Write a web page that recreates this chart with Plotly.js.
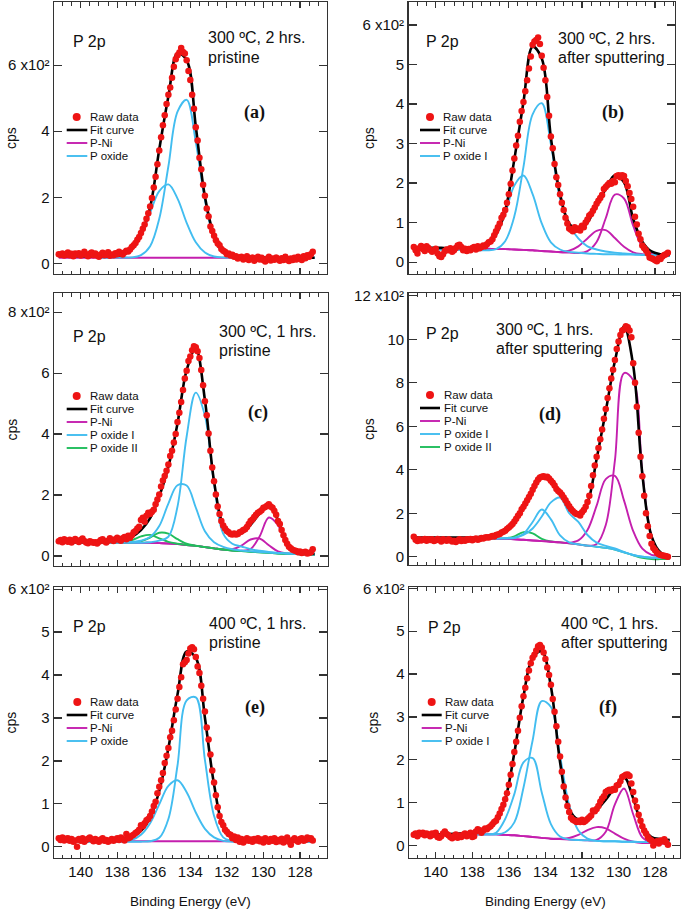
<!DOCTYPE html>
<html><head><meta charset="utf-8">
<script src="https://cdn.plot.ly/plotly-3.0.1.min.js"></script>
<style>html,body{margin:0;padding:0;background:#fff}#chart{width:685px;height:913px}</style>
</head><body><div id="chart"></div>
<script>
// ---------- energy grids (Binding Energy, eV) ----------
const CURVE_X0 = 141.2, CURVE_DX = -0.5;   // 29 points, 141.2 -> 127.2
const RAW_X0 = 141.2, RAW_DX = -0.1;       // 140 points, 141.2 -> 127.3

// ---------- values in units of 10^2 cps ----------
// (a) 300 C, 2 hrs, pristine
const a_fit = [.22,.22,.22,.21,.21,.21,.22,.26,.45,.88,1.7,3.45,5.05,6.36,6.15,4.14,2.02,.86,.4,.26,.21,.19,.18,.18,.17,.17,.17,.17,.17];
const a_pni = [.17,.17,.17,.17,.17,.17,.17,.17,.17,.17,.17,.17,.17,.17,.17,.17,.17,.17,.17,.17,.17,.17,.17,.17,.17,.17,.17,.17,.17];
const a_ox1 = [.19,.19,.19,.19,.19,.18,.18,.18,.18,.25,.52,1.35,2.94,4.59,4.95,3.67,1.91,.76,.31,.2,.18,.18,.17,.17,.17,.17,.17,.17,.17];
const a_ox2 = [.19,.19,.19,.19,.19,.18,.19,.24,.42,.84,1.53,2.19,2.39,1.96,1.23,.64,.33,.21,.18,.18,.18,.18,.17,.17,.17,.17,.17,.17,.17];
const a_raw = [.28,.26,.3,.24,.27,.33,.25,.29,.22,.3,
.27,.31,.24,.28,.35,.26,.22,.29,.33,.25,
.3,.24,.2,.27,.32,.25,.28,.34,.23,.27,
.25,.31,.28,.35,.3,.27,.33,.38,.36,.42,
.5,.55,.62,.72,.8,.92,1.05,1.18,1.35,1.52,
1.72,1.98,2.3,2.62,3.0,3.42,3.82,4.18,4.48,4.82,
5.1,5.32,5.62,5.95,6.18,6.3,6.38,6.52,6.4,6.35,
6.15,5.82,5.55,5.1,4.68,4.12,3.72,3.2,2.85,2.38,
2.05,1.66,1.42,1.12,.98,.84,.7,.6,.55,.44,
.38,.35,.28,.3,.24,.26,.2,.22,.15,.18,
.2,.12,.16,.22,.1,.15,.18,.08,.14,.2,
.12,.17,.1,.06,.14,.2,.09,.15,.11,.18,
.13,.08,.16,.1,.2,.12,.07,.15,.1,.17,
.12,.2,.15,.1,.22,.16,.25,.2,.28,.35];

// (b) 300 C, 2 hrs, after sputtering
const b_fit = [.36,.36,.36,.36,.36,.37,.37,.39,.45,.7,1.3,2.6,4.05,5.45,5.15,3.15,1.72,.98,.82,1.0,1.45,1.85,2.2,2.02,1.1,.52,.27,.2,.18];
const b_ni1 = [.34,.34,.34,.34,.34,.34,.34,.34,.34,.33,.33,.32,.31,.3,.28,.27,.26,.29,.4,.6,.79,.81,.61,.39,.25,.2,.18,.18,.17];
const b_ni2 = [.34,.34,.34,.34,.34,.34,.34,.34,.34,.33,.33,.32,.31,.3,.28,.27,.25,.24,.23,.28,.51,1.11,1.71,1.61,.92,.4,.21,.18,.17];
const b_ox1 = [.34,.33,.33,.32,.31,.31,.3,.3,.3,.33,.53,1.16,2.41,3.74,4.02,2.98,1.6,.95,.6,.4,.32,.27,.24,.22,.2,.19,.18,.17,.16];
const b_ox2 = [.34,.33,.33,.32,.31,.31,.3,.32,.42,.7,1.23,1.94,2.19,1.72,.98,.5,.32,.26,.24,.22,.21,.2,.2,.19,.19,.18,.17,.17,.16];
const b_raw = [.38,.3,.22,.35,.41,.33,.28,.4,.36,.31,
.26,.3,.34,.22,.15,.13,.2,.28,.32,.3,
.35,.26,.3,.36,.42,.44,.38,.3,.34,.28,
.33,.3,.36,.38,.32,.4,.35,.38,.42,.4,
.45,.5,.52,.58,.68,.78,.88,.98,1.12,1.2,
1.32,1.5,1.72,1.98,2.32,2.62,2.95,3.2,3.55,3.82,
4.05,4.32,4.6,4.9,5.2,5.5,5.58,5.62,5.68,5.52,
5.22,4.92,4.6,4.18,3.7,3.18,2.88,2.48,2.15,1.95,
1.72,1.5,1.32,1.12,.98,.85,.82,.78,.88,.82,
.85,.8,.92,.88,1.0,1.08,1.18,1.22,1.3,1.38,
1.48,1.55,1.62,1.7,1.85,1.9,1.95,2.0,1.98,2.05,
2.02,2.18,2.2,2.15,2.2,2.18,2.05,1.92,1.75,1.6,
1.4,1.15,.95,.72,.58,.42,.36,.3,.22,.12,
.1,.08,.05,.02,.1,.08,.14,.18,.2,.24];

// (c) 300 C, 1 hrs, pristine
const c_fit = [.45,.45,.45,.45,.45,.46,.48,.53,.63,.85,1.24,1.95,2.93,4.35,6.1,6.8,5.12,2.45,1.02,.7,.74,1.02,1.4,1.66,1.18,.42,.14,.09,.07];
const c_ni1 = [.44,.44,.44,.44,.44,.44,.44,.44,.43,.43,.43,.42,.41,.39,.36,.33,.29,.25,.21,.22,.34,.54,.57,.35,.15,.08,.06,.05,.04];
const c_ni2 = [.44,.44,.44,.44,.44,.44,.44,.44,.43,.43,.43,.42,.41,.39,.36,.33,.29,.25,.21,.18,.17,.23,.65,1.26,1.01,.35,.09,.05,.04];
const c_ox1a = [.44,.44,.44,.44,.44,.44,.44,.44,.43,.43,.45,.5,.63,1.62,3.92,5.36,4.6,2.38,.73,.4,.31,.22,.17,.13,.1,.08,.07,.06,.05];
const c_ox1b = [.44,.44,.44,.44,.44,.44,.44,.45,.46,.5,.62,.98,1.72,2.32,2.31,1.59,.81,.45,.3,.22,.18,.15,.13,.11,.09,.08,.07,.06,.05];
const c_ox2a = [.44,.44,.44,.44,.44,.44,.44,.44,.44,.48,.6,.76,.73,.55,.4,.34,.29,.25,.21,.18,.16,.14,.12,.1,.08,.07,.06,.05,.04];
const c_ox2b = [.44,.44,.44,.44,.44,.44,.44,.46,.52,.64,.69,.58,.46,.4,.36,.33,.29,.25,.21,.18,.16,.14,.12,.1,.08,.07,.06,.05,.04];
const c_raw = [.48,.52,.45,.55,.5,.47,.53,.44,.5,.56,
.5,.46,.52,.57,.49,.44,.42,.48,.46,.43,
.45,.41,.47,.52,.55,.48,.44,.5,.58,.52,
.49,.55,.6,.53,.5,.58,.62,.55,.66,.6,
.68,.78,.82,.9,.96,1.18,1.25,1.12,1.32,1.42,
1.38,1.45,1.52,1.7,1.85,2.02,2.28,2.48,2.62,2.8,
3.0,3.28,3.45,3.72,4.0,4.4,4.7,5.05,5.45,5.82,
6.08,6.4,6.55,6.75,6.88,6.85,6.72,6.5,6.1,5.6,
5.08,4.62,4.02,3.45,2.9,2.45,2.02,1.62,1.38,1.15,
1.0,.9,.82,.78,.72,.7,.74,.7,.72,.78,
.8,.85,.88,.95,1.05,1.15,1.2,1.28,1.35,1.42,
1.45,1.5,1.58,1.6,1.65,1.7,1.62,1.58,1.48,1.35,
1.15,1.05,.85,.68,.52,.4,.3,.25,.2,.18,
.16,.12,.15,.1,.12,.14,.08,.1,.12,.22];

// (d) 300 C, 1 hrs, after sputtering
const d_fit = [.88,.88,.88,.88,.88,.88,.88,.9,.93,1.0,1.15,1.7,2.3,3.07,3.65,3.5,2.95,2.3,1.95,2.5,4.5,6.7,9.0,10.6,8.8,3.8,.95,.2,.06];
const d_ni1 = [.84,.84,.84,.84,.84,.84,.84,.84,.83,.83,.82,.8,.78,.75,.72,.69,.66,.64,.75,1.23,2.35,3.57,3.72,2.58,1.18,.37,.09,.04,.03];
const d_ni2 = [.84,.84,.84,.84,.84,.84,.84,.84,.83,.83,.82,.8,.78,.75,.72,.69,.66,.62,.57,.51,.59,1.46,4.43,8.45,8.12,3.87,.95,.14,.03];
const d_ox1a = [.84,.84,.84,.84,.84,.84,.84,.84,.83,.84,.84,.86,1.0,1.3,1.85,2.5,2.72,2.0,1.6,1.0,.65,.5,.38,.22,.08,0,-.04,-.05,-.05];
const d_ox1b = [.84,.84,.84,.84,.84,.84,.84,.84,.83,.84,.86,.88,1.05,1.6,2.17,1.72,.98,.66,.57,.51,.46,.41,.33,.2,.08,0,-.04,-.05,-.05];
const d_ox2 = [.84,.84,.84,.84,.84,.84,.84,.84,.83,.83,.84,.94,1.13,1.07,.82,.7,.66,.62,.57,.51,.46,.41,.33,.2,.07,-.05,-.11,-.11,-.11];
const d_raw = [.92,.78,.72,.8,.75,.78,.82,.74,.8,.77,
.8,.72,.76,.82,.78,.7,.8,.77,.74,.81,
.76,.7,.73,.68,.75,.8,.72,.78,.74,.8,
.78,.82,.76,.8,.84,.78,.82,.86,.84,.88,
.9,.88,.92,.95,.93,1.0,1.02,1.05,1.12,1.15,
1.2,1.28,1.35,1.42,1.5,1.62,1.75,1.88,2.0,2.18,
2.3,2.45,2.6,2.75,2.9,3.08,3.25,3.42,3.55,3.65,
3.68,3.7,3.66,3.68,3.6,3.5,3.4,3.28,3.12,3.02,
2.95,2.85,2.72,2.6,2.45,2.32,2.2,2.1,2.02,1.96,
1.95,1.9,2.05,2.15,2.3,2.52,2.8,3.25,3.75,4.2,
4.6,5.0,5.4,5.85,6.35,6.8,7.3,7.75,8.2,8.6,
9.05,9.55,9.9,10.2,10.4,10.45,10.6,10.55,10.4,10.1,
8.9,8.0,6.9,5.7,4.6,3.7,2.8,2.0,1.4,.95,
.6,.4,.3,.18,.12,.08,.06,.04,.02,.0];

// (e) 400 C, 1 hrs, pristine
const e_fit = [.17,.17,.17,.17,.16,.16,.17,.18,.23,.37,.68,1.3,2.3,3.55,4.55,4.4,3.0,1.45,.48,.25,.19,.17,.16,.16,.16,.15,.15,.15,.15];
const e_pni = [.13,.13,.13,.13,.13,.13,.13,.13,.13,.13,.13,.13,.13,.13,.13,.13,.13,.13,.13,.13,.13,.13,.13,.13,.13,.13,.13,.13,.13];
const e_ox1 = [.12,.12,.12,.12,.12,.12,.12,.12,.12,.12,.13,.21,.65,1.9,3.41,3.48,2.02,.72,.22,.14,.12,.12,.12,.12,.12,.12,.12,.12,.12];
const e_ox2 = [.12,.12,.12,.12,.12,.12,.12,.13,.16,.28,.55,.99,1.42,1.55,1.27,.8,.42,.22,.14,.12,.12,.12,.12,.12,.12,.12,.12,.12,.12];
const e_raw = [.2,.16,.22,.15,.19,.2,.14,.18,.12,.15,
.0,.18,.14,.2,.12,.16,.19,.22,.17,.13,
.18,.15,.12,.17,.2,.14,.16,.12,.15,.18,
.14,.17,.2,.16,.22,.18,.15,.3,.2,.22,
.26,.28,.32,.35,.4,.5,.48,.55,.62,.65,
.72,.82,.95,1.05,1.25,1.4,1.55,1.72,1.95,2.12,
2.3,2.55,2.7,2.95,3.2,3.45,3.72,3.95,4.25,4.3,
4.35,4.5,4.62,4.65,4.6,4.42,4.2,4.05,3.75,3.45,
3.15,2.78,2.5,2.15,1.78,1.5,1.2,.92,.72,.58,
.5,.4,.35,.3,.28,.2,.24,.16,.22,.12,
.18,.1,.15,.2,.14,.17,.12,.18,.15,.2,
.13,.17,.1,.2,.15,.12,.18,.14,.2,.11,
.16,.13,.19,.1,.15,.22,.12,.05,.16,.2,
.15,.12,.18,.2,.14,.16,.22,.18,.2,.15];

// (f) 400 C, 1 hrs, after sputtering
const f_fit = [.26,.26,.26,.26,.27,.28,.3,.33,.38,.56,1.07,2.16,3.48,4.38,4.53,3.71,1.95,.85,.6,.63,.83,1.07,1.36,1.6,1.1,.46,.2,.15,.13];
const f_ni1 = [.26,.26,.26,.26,.26,.26,.26,.26,.26,.26,.25,.24,.22,.2,.18,.16,.16,.18,.25,.36,.43,.4,.28,.16,.09,.06,.06,.05,.05];
const f_ni2 = [.26,.26,.26,.26,.26,.26,.26,.26,.26,.26,.25,.24,.22,.2,.18,.16,.15,.14,.13,.12,.13,.32,.96,1.33,.73,.19,.07,.05,.05];
const f_ox1 = [.26,.26,.26,.26,.26,.26,.26,.26,.26,.26,.31,.54,1.35,2.45,3.37,3.23,2.09,.94,.35,.16,.11,.1,.1,.09,.09,.08,.08,.07,.07];
const f_ox2 = [.26,.26,.26,.26,.26,.26,.26,.26,.26,.3,.62,1.2,1.94,2.04,1.24,.5,.21,.14,.13,.12,.11,.1,.1,.09,.09,.08,.08,.07,.07];
const f_raw = [.25,.28,.22,.3,.27,.3,.24,.28,.26,.22,
.28,.25,.3,.2,.18,.22,.28,.33,.27,.24,
.2,.17,.22,.26,.18,.23,.2,.25,.28,.22,
.25,.3,.2,.22,.33,.38,.36,.3,.35,.4,
.38,.42,.45,.5,.55,.58,.66,.75,.85,.95,
1.08,1.22,1.42,1.65,1.9,2.18,2.42,2.68,2.98,3.25,
3.48,3.68,3.9,4.08,4.25,4.38,4.45,4.55,4.65,4.68,
4.62,4.5,4.35,4.15,3.98,3.75,3.42,3.12,2.78,2.42,
2.08,1.72,1.38,1.12,.92,.78,.65,.6,.58,.55,
.58,.55,.6,.55,.58,.62,.66,.7,.82,.8,
.85,.92,1.02,1.1,1.15,1.25,1.28,1.3,1.28,1.32,
1.3,1.4,1.42,1.5,1.6,1.62,1.65,1.66,1.62,1.45,
1.25,1.05,.9,.72,.58,.45,.35,.28,.2,.15,
.12,.0,.08,.1,.05,.12,.1,.15,.08,.02];

// ---------- styles ----------
const NI = '#c41fae', OX = '#42bdf0', OX2 = '#20bd5c', RED = '#ee1414', BLACK = '#000000';
const FONT = 'Liberation Sans, Arial, sans-serif';
const W = 685, H = 913;
const X100 = ' x10\u00B2';

const panels = [
 {px:[54,327], py:[2,274], xr:[141.46,126.52], yr:[-0.32,7.91], tv:[0,2,4,6], tt:['0','2','4','6'+X100], xl:false,
  comps:[[a_pni,NI,'P-Ni'],[a_ox2,OX,'P oxide'],[a_ox1,OX,'P oxide']], fit:a_fit, raw:a_raw,
  leg:{mx:76.7,my:117,lx:[66.7,87.3],tx:89.3,rows:[['Fit curve',BLACK,130],['P-Ni',NI,143],['P oxide',OX,156]]},
  pn:[72,42], cond:[207,38,57.5,'300 ºC, 2 hrs.','pristine'], lab:[254,112,'(a)'], cps:[11,138]},
 {px:[408.5,675], py:[2,274], xr:[141.49,126.91], yr:[-0.30,6.58], tv:[0,1,2,3,4,5,6], tt:['0','1','2','3','4','5','6'+X100], xl:false,
  comps:[[b_ni1,NI,'P-Ni'],[b_ni2,NI,'P-Ni'],[b_ox2,OX,'P oxide I'],[b_ox1,OX,'P oxide I']], fit:b_fit, raw:b_raw,
  leg:{mx:430,my:117,lx:[420,440],tx:441.7,rows:[['Fit curve',BLACK,130],['P-Ni',NI,143],['P oxide I',OX,156]]},
  pn:[425,42], cond:[556.7,38.5,58,'300 ºC, 2 hrs.','after sputtering'], lab:[612.5,112,'(b)'], cps:[369,138]},
 {px:[54,327.5], py:[293,566], xr:[141.46,126.49], yr:[-0.33,8.63], tv:[0,2,4,6,8], tt:['0','2','4','6','8'+X100], xl:false,
  comps:[[c_ni1,NI,'P-Ni'],[c_ni2,NI,'P-Ni'],[c_ox2b,OX2,'P oxide II'],[c_ox2a,OX2,'P oxide II'],[c_ox1b,OX,'P oxide I'],[c_ox1a,OX,'P oxide I']], fit:c_fit, raw:c_raw,
  leg:{mx:76.7,my:396,lx:[66.7,87.3],tx:89.3,rows:[['Fit curve',BLACK,409],['P-Ni',NI,422],['P oxide I',OX,435],['P oxide II',OX2,448]]},
  pn:[72,336], cond:[218,331,350,'300 ºC, 1 hrs.','pristine'], lab:[258,412.7,'(c)'], cps:[11,429.5]},
 {px:[408.5,680], py:[293,565], xr:[141.49,126.64], yr:[-0.38,12.13], tv:[0,2,4,6,8,10,12], tt:['0','2','4','6','8','10','12'+X100], xl:false,
  comps:[[d_ox2,OX2,'P oxide II'],[d_ni1,NI,'P-Ni'],[d_ni2,NI,'P-Ni'],[d_ox1b,OX,'P oxide I'],[d_ox1a,OX,'P oxide I']], fit:d_fit, raw:d_raw,
  leg:{mx:430,my:395,lx:[420,440],tx:442.7,rows:[['Fit curve',BLACK,408],['P-Ni',NI,421],['P oxide I',OX,434],['P oxide II',OX2,447]]},
  pn:[425,334], cond:[495,329.5,348.5,'300 ºC, 1 hrs.','after sputtering'], lab:[550,414,'(d)'], cps:[369,429]},
 {px:[54,327], py:[587,858], xr:[141.46,126.52], yr:[-0.26,6.05], tv:[0,1,2,3,4,5,6], tt:['0','1','2','3','4','5','6'+X100], xl:true,
  comps:[[e_pni,NI,'P-Ni'],[e_ox2,OX,'P oxide'],[e_ox1,OX,'P oxide']], fit:e_fit, raw:e_raw,
  leg:{mx:77.3,my:702,lx:[66.7,87.3],tx:89.3,rows:[['Fit curve',BLACK,715],['P-Ni',NI,728],['P oxide',OX,741]]},
  pn:[72,626], cond:[208,623,642,'400 ºC, 1 hrs.','pristine'], lab:[255,707,'(e)'], cps:[10,722.5], be:[190.5,901.7]},
 {px:[409,680], py:[587,858], xr:[141.46,126.64], yr:[-0.29,6.03], tv:[0,1,2,3,4,5,6], tt:['0','1','2','3','4','5','6'+X100], xl:true,
  comps:[[f_ni1,NI,'P-Ni'],[f_ni2,NI,'P-Ni'],[f_ox2,OX,'P oxide I'],[f_ox1,OX,'P oxide I']], fit:f_fit, raw:f_raw,
  leg:{mx:431.7,my:702,lx:[421.7,441.7],tx:444,rows:[['Fit curve',BLACK,715],['P-Ni',NI,728],['P oxide I',OX,741]]},
  pn:[427,627.5], cond:[560,623,642,'400 ºC, 1 hrs.','after sputtering'], lab:[608,707,'(f)'], cps:[372,722.5], be:[545.5,901.7]}
];

const fx = p => p / W, fy = p => 1 - p / H;
const traces = [], shapes = [], annotations = [];
const layout = {width:W, height:H, margin:{l:0,r:0,t:0,b:0}, paper_bgcolor:'#fff', plot_bgcolor:'#fff',
  showlegend:false, font:{family:FONT, color:'#111'}, hovermode:false};

function note(x, y, text, size, extra) {
  annotations.push(Object.assign({xref:'paper', yref:'paper', x:fx(x), y:fy(y), xanchor:'left', yanchor:'middle',
    text:text, showarrow:false, borderpad:0, font:{size:size, family:FONT, color:'#111'}}, extra || {}));
}

panels.forEach((p, i) => {
  const s = i === 0 ? '' : String(i + 1);
  const xa = 'x' + s, ya = 'y' + s;
  layout['xaxis' + s] = {domain:[fx(p.px[0]), fx(p.px[1])], range:p.xr, anchor:ya,
    showline:true, mirror:'allticks', linecolor:'#333', linewidth:1.4,
    ticks:'inside', ticklen:6, tickwidth:1.2, tickcolor:'#333',
    tickmode:'linear', tick0:0, dtick:2,
    minor:{ticks:'inside', dtick:0.5, tick0:0, ticklen:3.5, tickwidth:1, tickcolor:'#333'},
    showticklabels:p.xl, tickfont:{size:15, family:FONT, color:'#111'},
    showgrid:false, zeroline:false, fixedrange:true};
  layout['yaxis' + s] = {domain:[fy(p.py[1]), fy(p.py[0])], range:p.yr, anchor:xa,
    showline:true, mirror:'allticks', linecolor:'#333', linewidth:1.4,
    ticks:'inside', ticklen:8, tickwidth:1.2, tickcolor:'#333',
    tickmode:'array', tickvals:p.tv, ticktext:p.tt, tickfont:{size:15, family:FONT, color:'#111'},
    showgrid:false, zeroline:false, fixedrange:true};

  p.comps.forEach(([arr, col, nm]) => traces.push({type:'scatter', mode:'lines', name:nm,
    x0:CURVE_X0, dx:CURVE_DX, y:arr, xaxis:xa, yaxis:ya,
    line:{color:col, width:1.9, shape:'spline', smoothing:1}}));
  traces.push({type:'scatter', mode:'lines', name:'Fit curve', x0:CURVE_X0, dx:CURVE_DX, y:p.fit,
    xaxis:xa, yaxis:ya, line:{color:BLACK, width:2.6, shape:'spline', smoothing:1}});
  traces.push({type:'scatter', mode:'markers', name:'Raw data', x0:RAW_X0, dx:RAW_DX, y:p.raw,
    xaxis:xa, yaxis:ya, marker:{color:RED, size:6.5, line:{width:0}}});

  // legend drawn inside each panel, as in the original figure
  const L = p.leg;
  shapes.push({type:'circle', xref:'paper', yref:'paper', xsizemode:'pixel', ysizemode:'pixel',
    xanchor:fx(L.mx), yanchor:fy(L.my), x0:-4, x1:4, y0:-4, y1:4, fillcolor:RED, line:{width:0}});
  note(L.tx, L.my, 'Raw data', 11.5);
  L.rows.forEach(([txt, col, yy]) => {
    shapes.push({type:'line', xref:'paper', yref:'paper', x0:fx(L.lx[0]), x1:fx(L.lx[1]), y0:fy(yy), y1:fy(yy),
      line:{color:col, width:col === BLACK ? 2.6 : 1.9}});
    note(L.tx, yy, txt, 11.5);
  });

  note(p.pn[0], p.pn[1], 'P 2p', 16);
  note(p.cond[0], p.cond[1], p.cond[3], 16);
  note(p.cond[0], p.cond[2], p.cond[4], 16);
  note(p.lab[0], p.lab[1], '<b>' + p.lab[2] + '</b>', 18,
    {xanchor:'center', font:{size:18, family:'Liberation Serif, Times New Roman, serif', color:'#111'}});
  note(p.cps[0], p.cps[1], 'cps', 14, {xanchor:'center', textangle:-90});
  if (p.be) note(p.be[0], p.be[1], 'Binding Energy (eV)', 13.5, {xanchor:'center'});
});
layout.shapes = shapes;
layout.annotations = annotations;
Plotly.newPlot('chart', traces, layout, {staticPlot:true, displayModeBar:false});
</script></body></html>
